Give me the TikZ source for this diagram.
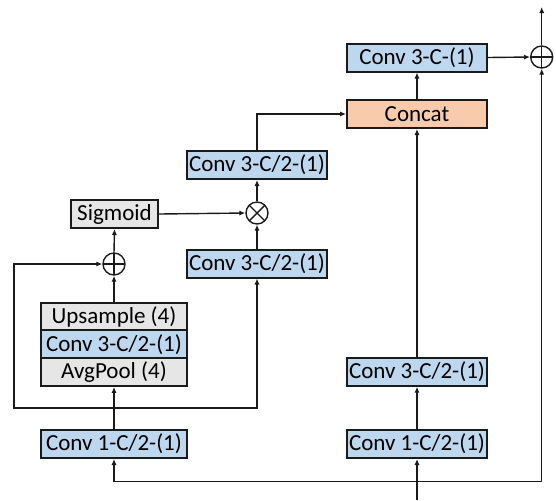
\documentclass[tikz,border=0pt]{standalone}
\usepackage{fontspec}
\setmainfont{Carlito}
\usetikzlibrary{arrows.meta}
\definecolor{bluef}{HTML}{BDD7EE}
\definecolor{orangef}{HTML}{F8CBAD}
\definecolor{grayf}{HTML}{E7E6E6}
\definecolor{edge}{HTML}{1A1A1A}
\begin{document}
\begin{tikzpicture}[x=0.5pt,y=-0.5pt,
  box/.style={draw=edge,line width=1pt,inner sep=0pt,minimum width=70pt,minimum height=14pt,font=\fontsize{11.5}{13}\selectfont},
  bluebox/.style={box,fill=bluef},
  graybox/.style={box,fill=grayf},
  orangebox/.style={box,fill=orangef},
  arr/.style={draw=edge,line width=0.7pt,-{Latex[length=3pt,width=2.6pt]}},
  opcircle/.style={circle,draw=edge,line width=0.7pt,minimum size=11pt,inner sep=0pt},
  oplusnode/.style={opcircle,path picture={
     \draw[edge,line width=0.7pt] (path picture bounding box.north)--(path picture bounding box.south)
       (path picture bounding box.west)--(path picture bounding box.east);}},
  otimesnode/.style={opcircle,path picture={
     \draw[edge,line width=0.7pt] (path picture bounding box.north west)--(path picture bounding box.south east)
       (path picture bounding box.south west)--(path picture bounding box.north east);}}
]
\useasboundingbox (0,0) rectangle (556,500);
% nodes
\node[bluebox] (c3c) at (417,57.5) {Conv 3-C-(1)};
\node[orangebox] (concat) at (417,114) {Concat};
\node[bluebox] (c3a) at (257,165) {Conv 3-C/2-(1)};
\node[otimesnode] (mult) at (257,213) {};
\node[graybox,minimum width=43.5pt] (sig) at (114.5,214) {Sigmoid};
\node[oplusnode] (plusL) at (114,264) {};
\node[bluebox] (c3b) at (257,263.5) {Conv 3-C/2-(1)};
\node[graybox,minimum width=73pt] (up) at (114,316.7) {Upsample (4)};
\node[bluebox,minimum width=73pt] (cmid) at (114,344.3) {Conv 3-C/2-(1)};
\node[graybox,minimum width=73pt] (avg) at (114,371.9) {AvgPool (4)};
\node[bluebox,minimum width=73pt] (c1L) at (114,444) {Conv 1-C/2-(1)};
\node[bluebox] (c3R) at (417,371.7) {Conv 3-C/2-(1)};
\node[bluebox] (c1R) at (417,444) {Conv 1-C/2-(1)};
\node[oplusnode] (plusR) at (541.7,57) {};
\coordinate (out) at (541.7,7);
\coordinate (in) at (417,500);
\coordinate (bj) at (417,481.7);
\coordinate (br) at (114,408);
\coordinate (lc) at (14,408);
% connectors
\draw[arr] (in) -- (c1R.south);
\draw[arr] (bj) -| (c1L.south);
\draw[arr] (bj) -| (plusR.south);
\draw[arr] (c1R.north) -- (c3R.south);
\draw[arr] (c3R.north) -- (concat.south);
\draw[arr] (c1L.north) -- (avg.south);
\draw[arr] (br) -- (lc) |- (plusL.west);
\draw[arr] (br) -| (c3b.south);
\draw[arr] (up.north) -- (plusL.south);
\draw[arr] (plusL.north) -- (sig.south);
\draw[arr] (sig.east) -- (mult.west);
\draw[arr] (c3b.north) -- (mult.south);
\draw[arr] (mult.north) -- (c3a.south);
\draw[arr] (c3a.north) |- (concat.west);
\draw[arr] (concat.north) -- (c3c.south);
\draw[arr] (c3c.east) -- (plusR.west);
\draw[arr] (plusR.north) -- (out);
\end{tikzpicture}
\end{document}
